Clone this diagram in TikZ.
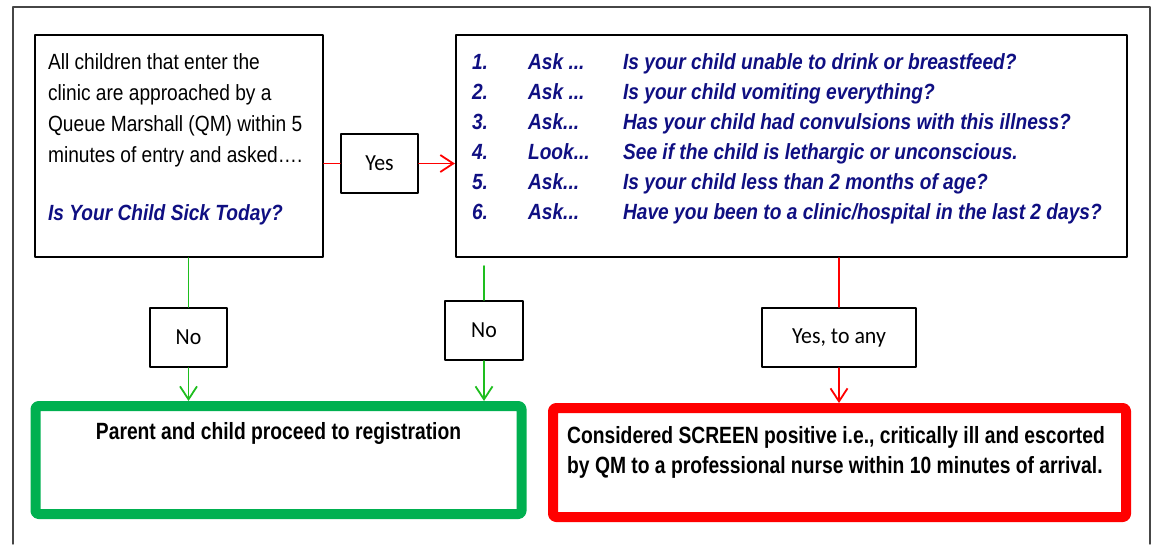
\documentclass[tikz,border=0pt]{standalone}
\usepackage{fontspec}
\setmainfont{Liberation Sans}
\newfontfamily\calibri[FakeStretch=0.95]{Carlito}
\newfontfamily\narrow[FakeStretch=0.82]{Liberation Sans}
\newfontfamily\slim[FakeStretch=0.87]{Liberation Sans}
\usetikzlibrary{arrows.meta}
\definecolor{qmblue}{RGB}{15,15,130}
\definecolor{okgreen}{RGB}{0,176,80}
\definecolor{linegreen}{RGB}{30,190,30}
\definecolor{alarmred}{RGB}{255,0,0}
\definecolor{framegray}{RGB}{70,70,70}
\begin{document}
\begin{tikzpicture}[x=1pt,y=-1pt,line cap=round,line join=round,>={Straight Barb[length=13pt,width=17pt]},
		box/.style={draw=black,line width=2.2pt,inner sep=0pt},
		tag/.style={box,font=\calibri\fontsize{23}{28}\selectfont,minimum height=59pt},
		goal/.style={draw=#1,line width=10pt,rounded corners=3pt,inner sep=0pt},
		txt/.style={inner sep=0pt,align=left},
		ask/.style={font=\slim\bfseries\itshape\fontsize{22}{30}\selectfont,text=qmblue},
		bold/.style={inner sep=0pt,font=\narrow\bfseries\fontsize{23.5}{30}\selectfont},
		yesline/.style={draw=alarmred,line width=1.8pt},
		noline/.style={draw=linegreen,line width=1.8pt}]
		\useasboundingbox (0,0) rectangle (1155,544);
		\draw[line width=1.4pt,draw=framegray] (13,544)--(13,7)--(1150,7)--(1150,544);
		\node[box,minimum width=288pt,minimum height=222pt] (start) at (179,146) {};
		\node[txt,anchor=north west,font=\slim\fontsize{22}{31}\selectfont] (starttext) at ([xshift=14pt,yshift=-19.5pt]start.north west)
			{All children that enter the\\ clinic are approached by a\\ Queue Marshall (QM) within 5\\ minutes of entry and asked….\\[27pt]
			{\bfseries\itshape\color{qmblue}Is Your Child Sick Today?}};
		\node[box,minimum width=671pt,minimum height=222pt] (quest) at (791.5,146) {};
		\node[txt,ask,anchor=north west] (questtext) at ([xshift=17pt,yshift=-14pt]quest.north west)
			{\begin{tabular}{@{}p{56pt}@{}p{95pt}@{}l@{}}
				1. & Ask ... & Is your child unable to drink or breastfeed?\\
				2. & Ask ... & Is your child vomiting everything?\\
				3. & Ask... & Has your child had convulsions with this illness?\\
				4. & Look... & See if the child is lethargic or unconscious.\\
				5. & Ask... & Is your child less than 2 months of age?\\
				6. & Ask... & Have you been to a clinic/hospital in the last 2 days?
			\end{tabular}};
		\node[tag,minimum width=77pt] (yes) at (379.5,163.5) {Yes};
		\node[tag,minimum width=77pt] (no1) at (188.5,337.5) {No};
		\node[tag,minimum width=78pt] (no2) at (484,330.5) {No};
		\node[tag,minimum width=154pt] (yesany) at (839,337.5) {Yes, to any};
		\node[goal=okgreen,minimum width=486pt,minimum height=108pt] (register) at (278.5,460) {};
		\node[bold,anchor=north] (registertext) at ([yshift=-21pt]register.north) {Parent and child proceed to registration};
		\node[goal=alarmred,minimum width=573pt,minimum height=109pt] (nurse) at (839.5,462.5) {};
		\node[bold,align=left,anchor=north west] (nursetext) at ([xshift=19pt,yshift=-23pt]nurse.north west)
			{Considered SCREEN positive i.e., critically ill and escorted\\ by QM to a professional nurse within 10 minutes of arrival.};
		\draw[yesline] (start.east |- yes.west) -- (yes.west);
		\draw[yesline,->] (yes.east) -- (yes.east -| quest.west);
		\draw[noline] (no1.north |- start.south) -- (no1.north);
		\draw[noline,->] (no1.south) -- (no1.south |- register.north);
		\draw[noline] ([yshift=-8pt]quest.south -| no2.north) -- (no2.north);
		\draw[noline,->] (no2.south) -- (no2.south |- register.north);
		\draw[yesline] (yesany.north |- quest.south) -- (yesany.north);
		\draw[yesline,->] (yesany.south) -- (yesany.south |- nurse.north);
	\end{tikzpicture}
\end{document}
